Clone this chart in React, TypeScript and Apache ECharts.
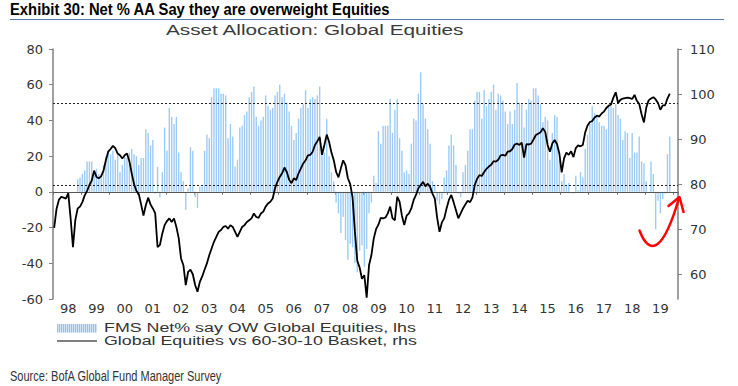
import React, { useEffect, useRef } from 'react';
import * as echarts from 'echarts';

// ---------- data ----------
const firstYear = 1998;
const monthCount = 266; // Jan 1998 .. Feb 2020

const yearLabels = ['98', '99', '00', '01', '02', '03', '04', '05', '06', '07', '08', '09', '10', '11', '12', '13', '14', '15', '16', '17', '18', '19'];

// FMS Net% say overweight Global Equities (lhs), monthly
const fmsNetPct: (number | null)[] = [
  null, null, null, null, null, null, null, null, null, null, 7, 8, // 1998
  10, 12, 17, 17, 17, 11, 13, 10, 9, 15, 20, 23, // 1999
  21, 23, 18, 21, 11, 15, 21, 19, 22, 24, 21, 20, // 2000
  15, 19, 19, 35, 33, 26, 29, -1, 14, -3, 11, 36, // 2001
  23, 47, 42, 38, 42, 22, 11, 6, -10, 2, 25, 23, // 2002
  -3, -9, 3, 3, 23, 32, 30, 53, 58, 58, 58, 55, // 2003
  55, 54, 30, 38, 31, 14, 18, 36, 37, 43, 45, 53, // 2004
  56, 59, 42, 37, 40, 42, 54, 48, 46, 47, 54, 56, // 2005
  60, 53, 55, 50, 45, 37, 29, 33, 41, 47, 49, 57, // 2006
  47, 52, 53, 52, 54, 59, 25, 22, 41, 20, 11, 6, // 2007
  -6, -12, -23, -14, -27, -38, -29, -31, -40, -45, -33, -30, // 2008
  -42, -32, -12, -6, 9, 5, 34, 27, 37, 37, 37, 52, // 2009
  33, 46, 52, 30, 23, 11, 12, 10, 27, 41, 40, 55, // 2010
  67, 49, 41, 35, 27, 6, 4, -5, -7, -4, 8, 12, // 2011
  26, 32, 26, 15, -1, -3, 11, 15, 23, 35, 35, 51, // 2012
  56, 56, 41, 57, 48, 52, 56, 60, 46, 55, 54, 51, // 2013
  45, 38, 45, 38, 46, 61, 50, 49, 36, 46, 52, 51, // 2014
  58, 58, 54, 49, 39, 42, 40, 18, 33, 43, 42, 18, // 2015
  6, 10, 4, 5, 0, -1, 9, 1, 11, 8, 24, 32, // 2016
  38, 48, 44, 42, 39, 37, 37, 35, 49, 48, 47, 49, // 2017
  43, 41, 29, 34, 33, 19, 33, 22, 22, 31, 17, 16, // 2018
  6, 0, 17, 10, -21, -5, -12, -4, -1, 21, 31, null, // 2019
  null, null, // 2020
];

// Global Equities vs 60-30-10 Basket (rhs), monthly
const equitiesVsBasket: (number | null)[] = [
  70.3, 74.5, 76.5, 77.2, 77.0, 76.8, 78.0, 72.4, 66.0, 72.0, 74.6, 75.0, // 1998
  76.0, 77.5, 78.5, 79.8, 80.8, 83.0, 81.6, 81.3, 81.8, 83.0, 85.3, 87.2, // 1999
  87.8, 88.5, 88.0, 86.8, 86.4, 85.7, 86.4, 86.8, 85.1, 82.4, 80.0, 78.5, // 2000
  77.8, 75.5, 73.0, 75.3, 77.0, 75.5, 74.6, 73.5, 66.0, 66.5, 69.0, 70.9, // 2001
  71.8, 72.4, 71.6, 72.4, 70.5, 68.0, 63.5, 62.0, 57.6, 60.5, 61.0, 60.0, // 2002
  57.6, 56.1, 58.3, 59.5, 61.0, 62.4, 64.2, 65.7, 67.2, 68.3, 69.4, 69.8, // 2003
  70.5, 70.7, 70.1, 70.9, 70.5, 69.4, 68.3, 69.4, 70.5, 70.9, 71.6, 72.0, // 2004
  72.4, 73.5, 72.7, 72.5, 73.5, 73.9, 75.0, 75.7, 76.1, 76.8, 79.1, 80.5, // 2005
  81.6, 82.4, 83.7, 82.7, 81.0, 80.2, 81.3, 80.9, 82.4, 83.5, 84.6, 85.3, // 2006
  86.4, 86.5, 87.2, 88.7, 89.5, 90.5, 86.5, 88.7, 91.0, 89.4, 87.0, 85.3, // 2007
  82.7, 81.5, 83.5, 85.3, 84.2, 81.3, 80.0, 77.0, 69.4, 63.0, 61.5, 59.0, // 2008
  59.8, 54.8, 62.0, 64.2, 67.9, 70.0, 71.0, 72.5, 72.4, 72.6, 73.5, 75.0, // 2009
  72.4, 72.0, 77.2, 76.1, 73.0, 70.9, 73.0, 73.5, 74.6, 76.5, 77.6, 79.1, // 2010
  79.8, 80.5, 79.5, 80.1, 79.4, 77.9, 76.8, 72.5, 69.4, 71.5, 72.4, 74.6, // 2011
  76.5, 77.6, 76.0, 74.2, 72.4, 73.5, 74.6, 75.5, 76.3, 76.0, 77.0, 79.8, // 2012
  81.2, 82.0, 81.8, 82.7, 83.4, 83.9, 84.3, 85.1, 85.0, 85.4, 86.4, 86.5, // 2013
  86.3, 87.2, 87.3, 87.8, 88.8, 89.0, 88.7, 89.2, 85.9, 88.9, 88.8, 89.0, // 2014
  89.9, 90.9, 91.2, 91.5, 92.4, 91.6, 88.7, 87.2, 89.0, 89.8, 88.9, 86.8, // 2015
  82.6, 85.7, 87.0, 86.5, 87.3, 86.0, 88.0, 88.6, 88.4, 88.7, 91.5, 93.0, // 2016
  93.8, 94.0, 94.8, 95.2, 95.0, 95.7, 96.1, 96.9, 97.4, 97.7, 99.2, 100.4, // 2017
  98.0, 98.7, 99.0, 99.1, 99.2, 99.1, 98.9, 99.8, 98.5, 97.8, 95.5, 93.7, // 2018
  97.0, 98.6, 99.0, 99.3, 98.8, 98.0, 96.5, 97.5, 97.5, 99.0, 100.1, null, // 2019
  null, null, // 2020
];

const leftAxisMin = -60;
const leftAxisMax = 80;
const leftAxisInterval = 20;
const rightAxisMin = 54.5;
const rightAxisMax = 110;
const rightAxisTicks = [60, 70, 80, 90, 100, 110];
const upperBand = 49.6;
const lowerBand = 3.8;

const titleText = 'Exhibit 30: Net % AA Say they are overweight Equities';
const subtitleText = 'Asset Allocation: Global Equities';
const legendBarText = 'FMS Net% say OW Global Equities, lhs';
const legendLineText = 'Global Equities vs 60-30-10 Basket, rhs';
const sourceText = 'Source: BofA Global Fund Manager Survey';

// ---------- helpers ----------
const categories: string[] = Array.from({ length: monthCount }, (_, i) => {
  const y = firstYear + Math.floor(i / 12);
  const m = (i % 12) + 1;
  return `${y}-${m < 10 ? '0' + m : m}`;
});

function measure(text: string, font: string): number {
  const ctx = document.createElement('canvas').getContext('2d');
  if (!ctx) return text.length * 7;
  ctx.font = font;
  return ctx.measureText(text).width;
}

const SANS = '"Liberation Sans", Arial, sans-serif';

function stretchedText(text: string, x: number, y: number, width: number, size: number, weight: string, fill: string) {
  const w = measure(text, `${weight} ${size}px ${SANS}`);
  return {
    type: 'text',
    x,
    y,
    scaleX: width / w,
    z: 100,
    style: {
      text,
      fontSize: size,
      fontFamily: SANS,
      fontWeight: weight,
      fill,
      align: 'left',
      verticalAlign: 'middle',
    },
  };
}

export default function App() {
  const ref = useRef<HTMLDivElement>(null);

  useEffect(() => {
    if (!ref.current) return;
    const chart = echarts.init(ref.current, null, { renderer: 'svg' });

    const stripes: any[] = [];
    for (let i = 0; i < 20; i++) {
      stripes.push({
        type: 'rect',
        shape: { x: 57 + i * 2, y: 324, width: 1, height: 8.5 },
        style: { fill: '#8fc3f3' },
        z: 101,
      });
    }

    const option: any = {
      animation: false,
      backgroundColor: '#ffffff',
      grid: { left: 53, right: 60, top: 49, bottom: 87, containLabel: false },
      xAxis: {
        type: 'category',
        data: categories,
        boundaryGap: true,
        axisLine: { show: false },
        axisTick: {
          show: true,
          interval: (i: number) => i % 12 === 0,
          length: 3,
          lineStyle: { color: '#777777', width: 1 },
        },
        axisLabel: {
          interval: (i: number) => i % 12 === 6,
          formatter: (v: string) => yearLabels[parseInt(v.slice(0, 4), 10) - firstYear] || '',
          color: '#333333',
          fontSize: 13,
          fontFamily: '"DejaVu Sans", sans-serif',
          margin: 3,
        },
        splitLine: { show: false },
      },
      yAxis: [
        {
          type: 'value',
          position: 'left',
          min: leftAxisMin,
          max: leftAxisMax,
          interval: leftAxisInterval,
          axisLine: { show: true, lineStyle: { color: '#808080', width: 1.5 } },
          axisTick: { show: true, length: 4, lineStyle: { color: '#808080' } },
          axisLabel: { color: '#333333', fontSize: 13, fontFamily: '"DejaVu Sans", sans-serif', margin: 10 },
          splitLine: { show: false },
        },
        {
          type: 'value',
          position: 'right',
          min: rightAxisMin,
          max: rightAxisMax,
          axisLine: { show: true, lineStyle: { color: '#808080', width: 1.5 } },
          axisTick: { show: true, length: 4, lineStyle: { color: '#808080' }, customValues: rightAxisTicks },
          axisLabel: {
            color: '#333333',
            fontSize: 13,
            fontFamily: '"DejaVu Sans", sans-serif',
            margin: 12,
            customValues: rightAxisTicks,
          },
          splitLine: { show: false },
        },
      ],
      series: [
        {
          name: legendBarText,
          type: 'bar',
          yAxisIndex: 0,
          data: fmsNetPct,
          barWidth: 1.4,
          itemStyle: { color: '#9ecbf6' },
          markLine: {
            silent: true,
            symbol: ['none', 'none'],
            label: { show: false },
            data: [
              { yAxis: upperBand, lineStyle: { type: [2, 2], color: '#222222', width: 1 } },
              { yAxis: lowerBand, lineStyle: { type: [2, 2], color: '#222222', width: 1 } },
              { yAxis: 0, lineStyle: { type: 'solid', color: '#555555', width: 1 } },
            ],
          },
        },
        {
          name: legendLineText,
          type: 'line',
          yAxisIndex: 1,
          data: equitiesVsBasket,
          symbol: 'none',
          showSymbol: false,
          lineStyle: { color: '#000000', width: 1.8 },
          z: 5,
        },
      ],
      graphic: [
        stretchedText(titleText, 10, 9.5, 381, 16, 'bold', '#000000'),
        {
          type: 'line',
          shape: { x1: 10, y1: 19.5, x2: 724, y2: 19.5 },
          style: { stroke: '#5b7aa6', lineWidth: 1 },
          z: 100,
        },
        stretchedText(subtitleText, 166, 30, 299, 14, 'normal', '#3a3a3a'),
        {
          type: 'rect',
          shape: { x: 57, y: 324, width: 40, height: 8.5 },
          style: { fill: '#cfe5fb' },
          z: 100,
        },
        ...stripes,
        stretchedText(legendBarText, 104, 327.6, 312, 12, 'normal', '#333333'),
        {
          type: 'line',
          shape: { x1: 57, y1: 341, x2: 97, y2: 341 },
          style: { stroke: '#555555', lineWidth: 1.5 },
          z: 100,
        },
        stretchedText(legendLineText, 104, 340.9, 313, 12, 'normal', '#333333'),
        stretchedText(sourceText, 10, 376.3, 212, 15, 'normal', '#333333'),
        {
          type: 'bezierCurve',
          shape: { x1: 639.5, y1: 230.5, cpx1: 650, cpy1: 258, cpx2: 664, cpy2: 250, x2: 679, y2: 198 },
          style: { stroke: '#ff0000', lineWidth: 2.5, fill: null, lineCap: 'round' },
          z: 110,
        },
        {
          type: 'polyline',
          shape: { points: [[668.5, 206], [679.5, 197], [683.5, 212]] },
          style: { stroke: '#ff0000', lineWidth: 2.5, fill: null, lineCap: 'round', lineJoin: 'round' },
          z: 110,
        },
      ],
    };

    chart.setOption(option);
    return () => chart.dispose();
  }, []);

  return (
    <div
      ref={ref}
      style={{ position: 'absolute', left: 0, top: 0, width: 738, height: 386, background: '#ffffff' }}
    />
  );
}
